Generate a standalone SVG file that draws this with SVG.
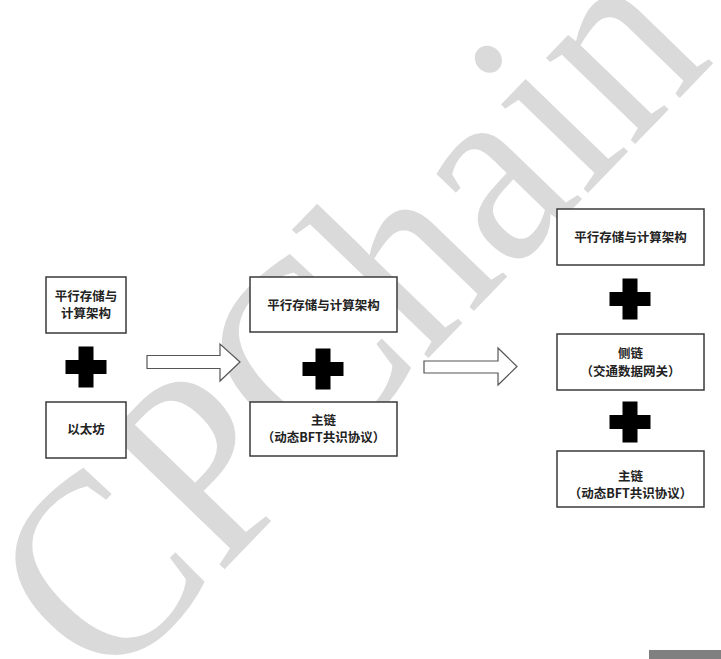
<svg xmlns="http://www.w3.org/2000/svg" width="721" height="659" viewBox="0 0 721 659">
<style>
.box{fill:#fff;stroke:#3a3a3a;stroke-width:1.5}
.t{font-family:"Noto Sans CJK SC","Noto Sans",sans-serif;font-weight:bold;font-size:12.5px;fill:#222;text-anchor:middle}
.plus{fill:#000}
.arr{fill:#fff;stroke:#555;stroke-width:1.2;stroke-linejoin:miter}
.wm{font-family:"Liberation Serif",serif;font-size:270px;fill:#dadada}
</style>
<defs>
<path id="plus" class="plus" d="M-7.5,-20.5 H7.5 V-7 H20.5 V7 H7.5 V20.5 H-7.5 V7 H-20.5 V-7 H-7.5 Z"/>
</defs>
<rect width="721" height="659" fill="#fff"/>
<g id="watermark">
<text class="wm" transform="translate(106,692) rotate(-46) scale(0.9,1)">CPChain</text>
</g>
<g id="connectors">
<path class="arr" d="M147,355.5 H220 V344 L240,362 L220,381 V368.5 H147 Z"/>
<path class="arr" d="M424,361 H498 V348 L517,366.5 L498,385 V373 H424 Z"/>
</g>
<g id="n1-top"><rect class="box" x="46" y="277" width="80" height="56"/>
<text class="t" x="86" y="300.5">平行存储与</text><text class="t" x="86" y="318">计算架构</text></g>
<g id="plus1"><use href="#plus" x="86" y="367"/></g>
<g id="n1-bottom"><rect class="box" x="46" y="402" width="80" height="56"/>
<text class="t" x="86" y="434">以太坊</text></g>
<g id="n2-top"><rect class="box" x="250" y="277" width="147" height="55"/>
<text class="t" x="323.5" y="310">平行存储与计算架构</text></g>
<g id="plus2"><use href="#plus" x="323" y="369"/></g>
<g id="n2-bottom"><rect class="box" x="250" y="402" width="147" height="54"/>
<text class="t" x="323.5" y="424.5">主链</text><text class="t" x="323.5" y="442">（动态BFT共识协议）</text></g>
<g id="n3-top"><rect class="box" x="557" y="209" width="147" height="56"/>
<text class="t" x="630.5" y="242">平行存储与计算架构</text></g>
<g id="plus3a"><use href="#plus" x="630" y="299"/></g>
<g id="n3-mid"><rect class="box" x="557" y="334" width="147" height="56"/>
<text class="t" x="630.5" y="357.5">侧链</text><text class="t" x="630.5" y="375.5">（交通数据网关）</text></g>
<g id="plus3b"><use href="#plus" x="630" y="422"/></g>
<g id="n3-bottom"><rect class="box" x="557" y="451" width="147" height="56"/>
<text class="t" x="630.5" y="480.5">主链</text><text class="t" x="630.5" y="498">（动态BFT共识协议）</text></g>
<rect x="649" y="650" width="72" height="9" fill="#808080"/>
</svg>
